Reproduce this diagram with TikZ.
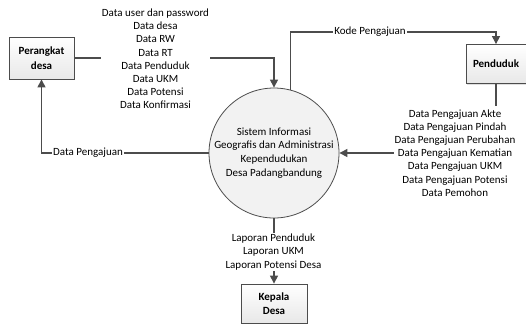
\documentclass[tikz,border=0pt]{standalone}
\usepackage{fontspec}
\setmainfont{Carlito}
\usetikzlibrary{arrows.meta,shadows}
\begin{document}
\begin{tikzpicture}[x=1pt,y=-1pt,
  every node/.style={font=\fontsize{11}{13.2}\selectfont},
  ent/.style={draw=gray!60!black, line width=0.8pt, top color=white, bottom color=gray!18,
    font=\fontsize{11}{14.5}\selectfont\bfseries, align=center, inner sep=0pt,
    drop shadow={shadow xshift=1.2pt, shadow yshift=-1.2pt, opacity=0.25}},
  proc/.style={circle, draw=gray!60!black, line width=0.8pt, fill=gray!10, minimum size=130pt,
    inner sep=0pt, align=center, font=\fontsize{11}{13.8}\selectfont},
  flow/.style={draw=gray!60!black, line width=1.1pt},
  arr/.style={flow, -{Triangle[length=8pt,width=8pt]}},
  lbl/.style={fill=white, align=center, inner xsep=1pt, inner ysep=1.5pt}
]
\useasboundingbox (0,0) rectangle (526,325);

% entities and process
\node[ent, minimum width=65pt, minimum height=42pt] (pd) at (41.5,58) {Perangkat\\desa};
\node[ent, minimum width=60pt, minimum height=39pt] (pen) at (496,64) {Penduduk};
\node[ent, minimum width=66pt, minimum height=39pt] (kd) at (274,303.5) {Kepala\\Desa};
\node[proc] (sys) at (274,153) {Sistem Informasi\\Geografis dan Administrasi\\Kependudukan\\Desa Padangbandung};

\coordinate (ktop) at (0,32);

% flows
\draw[arr] (pd.east) -- (sys.north |- pd.east) -- (sys.north);
\draw[arr] (sys.75) -- (sys.75 |- ktop) -- (pen.north |- ktop) -- (pen.north);
\draw[arr] (pen.south) -- (pen.south |- sys.east) -- (sys.east);
\draw[arr] (sys.west) -- (pd.south |- sys.west) -- (pd.south);
\draw[arr] (sys.south) -- (kd.north);

% labels
\node[lbl] (l1) at (155.5,59) {Data user dan password\\Data desa\\Data RW\\Data RT\\Data Penduduk\\Data UKM\\Data Potensi\\Data Konfirmasi};
\node[lbl, inner ysep=4pt] (l2) at (455,153) {Data Pengajuan Akte\\Data Pengajuan Pindah\\Data Pengajuan Perubahan\\Data Pengajuan Kematian\\Data Pengajuan UKM\\Data Pengajuan Potensi\\Data Pemohon};
\node[lbl] (l3) at (370,32) {Kode Pengajuan};
\node[lbl] (l4) at (88,153) {Data Pengajuan};
\node[lbl] (l5) at (273.5,252) {Laporan Penduduk\\Laporan UKM\\Laporan Potensi Desa};
\end{tikzpicture}
\end{document}
